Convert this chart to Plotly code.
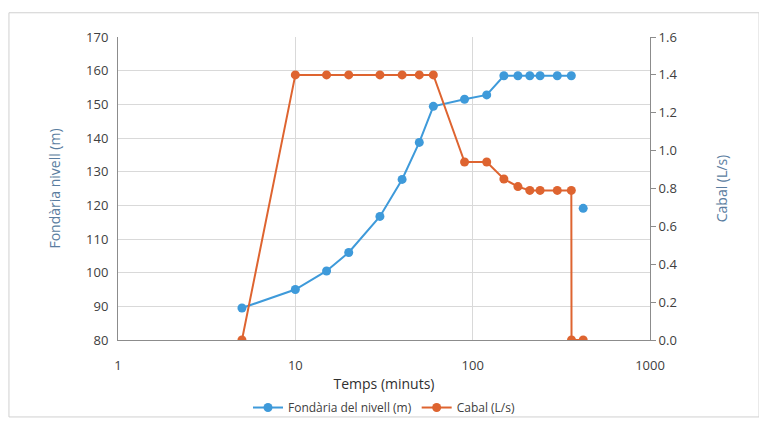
import plotly.graph_objects as go

temps = [5, 10, 15, 20, 30, 40, 50, 60, 90, 120, 150, 180, 210, 240, 300, 360, 361, 420]
fondaria = [89.5, 95.0, 100.5, 106.0, 116.7, 127.7, 138.7, 149.4, 151.5, 152.8, 158.5, 158.5, 158.5, 158.5, 158.5, 158.5, None, 119.1]
cabal = [0.0, 1.4, 1.4, 1.4, 1.4, 1.4, 1.4, 1.4, 0.94, 0.94, 0.85, 0.81, 0.79, 0.79, 0.79, 0.79, 0.0, 0.0]

x_ticks = [1, 10, 100, 1000]
y_left_ticks = list(range(80, 171, 10))
y_right_ticks = [0.0, 0.2, 0.4, 0.6, 0.8, 1.0, 1.2, 1.4, 1.6]

blue = "#3E9ADA"
orange = "#DE6430"
font = "Open Sans"

fig = go.Figure()
fig.add_trace(go.Scatter(
    x=temps, y=fondaria, name="Fondària del nivell (m)", mode="lines+markers",
    line=dict(color=blue, width=2), marker=dict(color=blue, size=9),
    connectgaps=False, yaxis="y"))
fig.add_trace(go.Scatter(
    x=temps, y=cabal, name="Cabal (L/s)", mode="lines+markers",
    line=dict(color=orange, width=2), marker=dict(color=orange, size=9),
    yaxis="y2"))

axis_font = dict(family=font, size=13, color="#404040")
title_color = "#5A7DA0"
fig.update_layout(
    width=759, height=426,
    margin=dict(l=110, r=117, t=29, b=86),
    paper_bgcolor="white", plot_bgcolor="white",
    font=dict(family=font, size=12, color="#404040"),
    xaxis=dict(type="log", range=[0, 3], tickvals=x_ticks, ticktext=[str(v) for v in x_ticks],
               showgrid=True, gridcolor="#D9D9D9", gridwidth=1,
               showline=True, linecolor="#8C8C8C", linewidth=1, mirror=False,
               ticks="outside", ticklen=13, tickcolor="rgba(0,0,0,0)", tickfont=axis_font,
               zeroline=False, automargin=False,
               title=dict(text="Temps (minuts)", font=dict(family=font, size=14, color="#303030"), standoff=6)),
    yaxis=dict(range=[80, 170], tickvals=y_left_ticks, showgrid=True, gridcolor="#D9D9D9",
               showline=True, linecolor="#8C8C8C", linewidth=1,
               ticks="outside", ticklen=6, tickcolor="rgba(0,0,0,0)", tickfont=axis_font,
               zeroline=False, automargin=False,
               title=dict(text="Fondària nivell (m)", font=dict(family=font, size=14, color=title_color), standoff=22)),
    yaxis2=dict(range=[0, 1.6], tickvals=y_right_ticks, ticktext=[f"{v:.1f}" for v in y_right_ticks],
                overlaying="y", side="right", showgrid=False,
                showline=True, linecolor="#8C8C8C", linewidth=1, ticks="outside", ticklen=5,
                tickcolor="#8C8C8C", tickfont=axis_font, zeroline=False, automargin=False,
                title=dict(text="Cabal (L/s)", font=dict(family=font, size=14, color=title_color), standoff=40)),
    legend=dict(orientation="h", x=0.5, xanchor="center", y=-0.175, yanchor="top",
                font=dict(family=font, size=12, color="#404040"), bgcolor="rgba(0,0,0,0)"),
    showlegend=True,
)
fig.add_shape(type="rect", xref="paper", yref="paper", x0=-0.205, x1=1.205, y0=-0.254, y1=1.08,
              line=dict(color="#D0D0D0", width=1), layer="below")

fig.write_html("out.html")
